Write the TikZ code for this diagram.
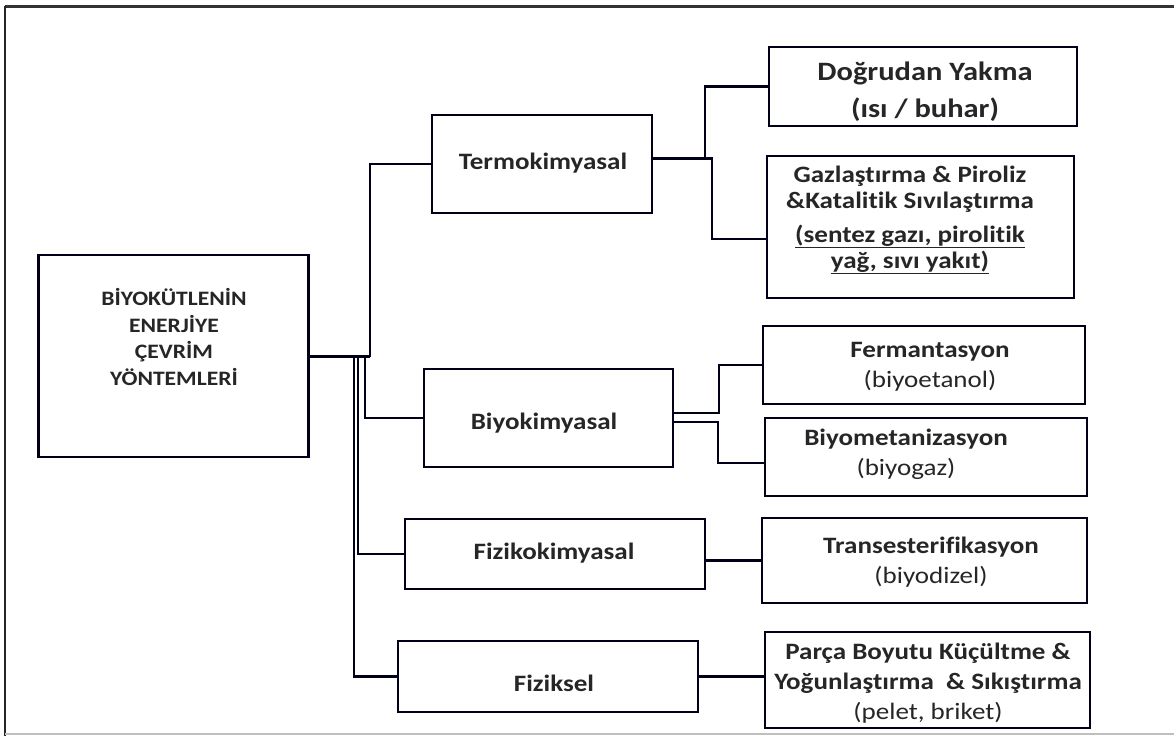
\documentclass[tikz,border=0pt]{standalone}
\usepackage{fontspec}
\setmainfont[FakeStretch=1.15,Ligatures=NoCommon]{Carlito}
\usetikzlibrary{calc}
\tikzset{
  box/.style={draw=black!90!blue, line width=2.5pt, inner sep=0pt},
  conn/.style={draw=black!90!blue, line width=2.2pt},
  txt/.style={align=center, inner sep=0pt, text=black!85},
  bigtxt/.style={txt, font=\fontsize{23.5}{30}\selectfont},
}
\begin{document}
\begin{tikzpicture}[x=1pt,y=-1pt]
\useasboundingbox (0,0) rectangle (1174,736);
\fill[white] (0,0) rectangle (1174,736);
% outer frame
\draw[line width=3pt, black!80] (5,6) -- (1174,6);
\draw[line width=2pt, black!85] (5,6) -- (5,736);
\draw[line width=1.5pt, black!25] (5,734) -- (1174,734);

% boxes
\node[box, minimum width=270pt, minimum height=202pt] (main) at (173.5,356) {};
\node[box, minimum width=220pt, minimum height=98pt] (termo) at (542,164) {};
\node[box, minimum width=249pt, minimum height=98pt] (biyo) at (548.5,418) {};
\node[box, minimum width=300pt, minimum height=70pt] (fiziko) at (555,554) {};
\node[box, minimum width=300pt, minimum height=71pt] (fiz) at (548,676.5) {};
\node[box, minimum width=308pt, minimum height=79pt] (dog) at (923,86.5) {};
\node[box, minimum width=307pt, minimum height=142pt] (gaz) at (920.5,227) {};
\node[box, minimum width=322pt, minimum height=78pt] (ferm) at (924,365) {};
\node[box, minimum width=322pt, minimum height=78pt] (biom) at (926,457) {};
\node[box, minimum width=325pt, minimum height=85pt] (trans) at (924.5,560.5) {};
\node[box, minimum width=325pt, minimum height=96pt] (parca) at (927.5,680) {};

% texts
\node[txt, font=\fontsize{20.5}{26.5}\selectfont\bfseries] (mainT) at (174,337)
  {BİYOKÜTLENİN\\ENERJİYE\\ÇEVRİM\\YÖNTEMLERİ};
\node[txt, font=\fontsize{23.5}{28}\selectfont\bfseries] (termoT) at (543,163) {Termokimyasal};
\node[txt, font=\fontsize{23.5}{28}\selectfont\bfseries] (biyoT) at (544,423) {Biyokimyasal};
\node[txt, font=\fontsize{23.5}{28}\selectfont\bfseries] (fizikoT) at (554,553) {Fizikokimyasal};
\node[txt, font=\fontsize{23.5}{28}\selectfont\bfseries] (fizT) at (554,683) {Fiziksel};
\node[txt, font=\fontsize{26.5}{37}\selectfont\bfseries] (dogT) at (925,91.5) {Doğrudan Yakma\\(ısı / buhar)};
\node[txt, font=\fontsize{23.5}{26}\selectfont\bfseries] (gazT) at (910,220)
  {Gazlaştırma \& Piroliz\\\&Katalitik Sıvılaştırma\\[8pt]\underline{(sentez gazı, pirolitik}\\\underline{yağ, sıvı yakıt)}};
\node[bigtxt] (fermT) at (930,367) {\textbf{Fermantasyon}\\(biyoetanol)};
\node[bigtxt] (biomT) at (906,454) {\textbf{Biyometanizasyon}\\(biyogaz)};
\node[bigtxt] (transT) at (931,562) {\textbf{Transesterifikasyon}\\(biyodizel)};
\node[bigtxt] (parcaT) at (928,683) {\textbf{Parça Boyutu Küçültme \&}\\\textbf{Yoğunlaştırma\ \ \& Sıkıştırma}\\(pelet, briket)};

% trunk junctions
\coordinate (jT) at (370,356);
\coordinate (jB) at (365,356);
\coordinate (jC) at (358,356);
\coordinate (jD) at (354,356);
\draw[conn] (main.east) -- (jT) |- (termo.west);
\draw[conn] (main.east) -- (jB) |- (biyo.west);
\draw[conn] (main.east) -- (jC) |- (fiziko.west);
\draw[conn] (main.east) -- (jD) |- (fiz.west);
\draw[conn, line width=3pt] (main.east) -- (jT);

% termokimyasal branches
\coordinate (t1) at (705,158);
\coordinate (t2) at (712,158);
\draw[conn] ($(termo.east)+(0,-6)$) -- (t1) |- (dog.west);
\draw[conn] ($(termo.east)+(0,-6)$) -- (t2) |- ($(gaz.west)+(0,12)$);
\draw[conn, line width=3pt] ($(termo.east)+(0,-6)$) -- (t2);

% biyokimyasal branches
\coordinate (b1) at (719,413);
\coordinate (b2) at (718,422);
\draw[conn] ($(biyo.east)+(0,-5)$) -- (b1) |- (ferm.west);
\draw[conn] ($(biyo.east)+(0,4)$) -- (b2) |- ($(biom.west)+(0,6)$);

% single branches
\draw[conn] (fiziko.east |- trans.west) -- (trans.west);
\draw[conn] (fiz.east) -- (fiz.east -| parca.west);
\end{tikzpicture}
\end{document}
